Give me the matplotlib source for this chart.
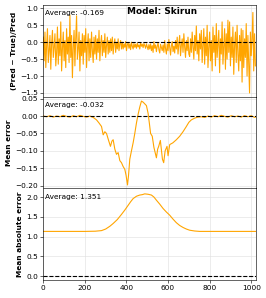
import numpy as np
import matplotlib
matplotlib.use("Agg")
import matplotlib.pyplot as plt

# relative error per sample (one value every 4 steps)
rel_err = [
    0.15, -0.55, 0.30, -0.75, -0.10, 0.40, -0.60, -0.25, 0.20, -0.80, -0.05, 0.35, -0.45, -0.15, 0.25, -0.70,
    -0.30, 0.45, -0.65, 0.10, -0.40, 0.60, -0.85, -0.20, 0.30, -0.55, 0.05, -0.75, 0.40, -0.35, 0.15, -0.60,
    0.80, -0.45, 0.20, -1.05, -0.15, 0.35, -0.70, 0.10, 0.78, -0.50, -0.20, 0.30, -0.85, 0.05, -0.40, 0.25,
    -0.65, 0.20, -0.30, 0.40, -0.75, -0.10, 0.25, -0.55, 0.10, -0.45, 0.30, -0.25, -0.60, 0.15, -0.35, 0.20,
    -0.50, 0.10, -0.30, 0.35, -0.55, -0.05, 0.20, -0.40, 0.05, -0.30, 0.25, -0.45, -0.10, 0.15, -0.35, 0.05,
    -0.30, 0.10, -0.25, 0.15, -0.35, -0.05, 0.10, -0.30, 0.00, -0.20, 0.10, -0.25, -0.05, 0.05, -0.20, 0.00,
    -0.20, -0.05, -0.15, 0.02, -0.25, -0.08, -0.02, -0.18, -0.05, -0.22, 0.00, -0.12, -0.20, -0.04, -0.15, -0.06,
    -0.18, -0.03, -0.14, -0.08, -0.20, -0.02, -0.12, -0.06, -0.16, -0.04, -0.10, -0.18, -0.05, -0.13, -0.22, -0.07,
    -0.20, -0.05, -0.25, -0.10, -0.30, 0.02, -0.18, -0.08, -0.28, -0.12, -0.02, -0.22, -0.32, -0.06, -0.15, -0.25,
    -0.08, -0.30, 0.05, -0.20, -0.35, -0.05, -0.25, 0.08, -0.15, -0.38, -0.10, 0.02, -0.28, -0.12, -0.32, 0.05,
    -0.20, 0.15, -0.35, -0.05, 0.20, -0.40, -0.10, 0.10, -0.30, 0.25, -0.15, -0.45, 0.05, -0.25, 0.15, -0.35,
    -0.42, 0.10, -0.30, 0.30, -0.15, -0.50, 0.20, -0.25, 0.48, -0.35, 0.05, -0.55, 0.25, -0.20, 0.35, -0.60,
    -0.10, 0.40, -0.65, 0.15, -0.40, 0.50, -0.75, -0.15, 0.30, -0.55, 0.05, -0.85, 0.45, -0.30, 0.20, -0.70,
    0.55, -0.45, -0.05, 0.35, -0.90, 0.10, -0.35, 0.60, -0.65, -0.15, 0.40, -0.80, 0.25, -0.50, 0.65, -0.30,
    0.60, -0.70, 0.15, -0.45, 0.45, -0.95, -0.10, 0.30, -0.60, 0.50, -0.35, -0.85, 0.20, -0.55, 0.40, -1.18,
    0.35, -0.75, 0.10, -0.45, 0.55, -1.00, 0.20, -0.60, -1.50, 0.30, -0.40, 0.10, 0.88, -0.85, 0.25, -0.70,
]
x_rel = np.arange(len(rel_err)) * 4

# mean error
x_me = [0, 16, 32, 48, 64, 80, 96, 112, 128, 144, 160, 176, 192, 208, 224, 240,
        256, 268, 280, 288, 296, 304, 314, 323, 330, 336, 344, 352, 360, 368, 376,
        384, 392, 398, 405, 410, 416, 424, 432, 440, 448, 456, 464, 472, 480, 488,
        496, 504, 510, 516, 524, 532, 540, 544, 550, 555, 563, 573, 579, 586, 595,
        600, 608, 623, 640, 656, 672, 688, 700, 712, 728, 743, 760, 776, 792, 808,
        824, 840, 856, 872, 888, 904, 920, 936, 952, 968, 984, 1000, 1016, 1023]
mean_err = [0.000, -0.002, 0.001, -0.003, 0.000, -0.002, 0.002, -0.001, -0.003, 0.001,
            -0.002, 0.002, -0.001, -0.003, 0.000, -0.004,
            -0.011, -0.020, -0.030, -0.054, -0.045, -0.050, -0.070, -0.087, -0.072, -0.068,
            -0.095, -0.110, -0.105, -0.128, -0.134,
            -0.145, -0.153, -0.170, -0.198, -0.170, -0.124, -0.100, -0.077, -0.050, -0.020,
            0.005, 0.026, 0.043, 0.040, 0.035,
            0.030, 0.008, -0.020, -0.050, -0.058, -0.090, -0.110, -0.120, -0.095, -0.087,
            -0.070, -0.124, -0.134, -0.100, -0.087,
            -0.114, -0.082, -0.077, -0.068, -0.058, -0.045, -0.030, -0.018, -0.011, -0.006,
            -0.003, -0.002, -0.004, 0.000, -0.003,
            0.001, -0.002, 0.002, -0.001, -0.003, 0.001, -0.002, 0.000, -0.003, 0.001,
            -0.002, 0.001, -0.004, -0.002]

# mean absolute error
x_mae = [0, 100, 200, 250, 280, 300, 320, 336, 356, 376, 392, 408, 420, 432, 448,
         464, 476, 488, 504, 520, 532, 544, 560, 576, 592, 608, 624, 640, 656, 672,
         688, 704, 728, 752, 800, 900, 1023]
mae = [1.13, 1.13, 1.13, 1.135, 1.15, 1.19, 1.26, 1.33, 1.43, 1.56, 1.67, 1.79, 1.88,
       1.96, 2.02, 2.05, 2.06, 2.08, 2.07, 2.05, 2.00, 1.92, 1.82, 1.71, 1.62, 1.54,
       1.44, 1.35, 1.28, 1.23, 1.19, 1.16, 1.14, 1.13, 1.13, 1.13, 1.13]

averages = [-0.169, -0.032, 1.351]
ylabels = ["(Pred \u2212 True)/Pred", "Mean error", "Mean absolute error"]

fig, axes = plt.subplots(3, 1, sharex=True, figsize=(266 / 53.2, 298 / 53.2), dpi=53.2)
fig.subplots_adjust(left=43.3 / 266, right=256 / 266, top=1 - 5 / 298,
                    bottom=1 - 280 / 298, hspace=0)

series = [(x_rel, rel_err), (x_me, mean_err), (x_mae, mae)]
for ax, (xs, ys), avg, lab in zip(axes, series, averages, ylabels):
    ax.plot(xs, ys, color="orange", lw=1.5)
    ax.axhline(0, color="k", ls="--", lw=1.5)
    ax.grid(True, color="#e0e0e0")
    ax.set_axisbelow(True)
    ax.set_ylabel(lab, fontweight="bold")
    ax.text(0.01, 0.94, f"Average: {avg:.3f}", transform=ax.transAxes, va="top")

axes[0].set_ylim(-1.61, 1.1)
axes[0].set_yticks([-1.5, -1.0, -0.5, 0.0, 0.5, 1.0])
axes[1].set_ylim(-0.2077, 0.0557)
axes[1].set_yticks([-0.20, -0.15, -0.10, -0.05, 0.00, 0.05])
axes[2].set_ylim(-0.1, 2.22)
axes[2].set_yticks([0.0, 0.5, 1.0, 1.5, 2.0])
axes[2].set_xlim(0, 1023)
axes[2].set_xticks([0, 200, 400, 600, 800, 1000])

fig.text(0.61, 0.963, "Model: Skirun", ha="center", va="center",
         fontsize=12, fontweight="bold")

plt.savefig("out.png", dpi=53.2)
